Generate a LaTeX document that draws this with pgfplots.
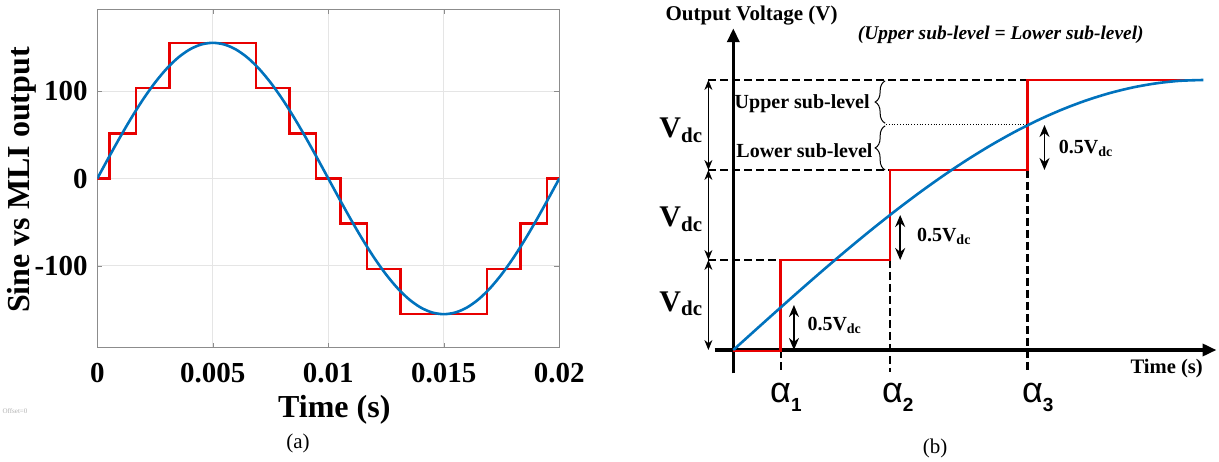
\documentclass[border=0pt]{standalone}
\usepackage{fontspec}
\setmainfont{Liberation Serif}
\newfontfamily\arialfont{Liberation Sans}
\usepackage{pgfplots}
\pgfplotsset{compat=1.18}
\usetikzlibrary{arrows.meta,decorations.pathreplacing}

\definecolor{mblue}{RGB}{0,114,189}
\definecolor{mred}{RGB}{232,0,0}

\begin{document}
\begin{tikzpicture}
\useasboundingbox (0,0) rectangle (609.5pt,230.5pt);

% ---------------- (a) sine vs staircase ----------------
\begin{axis}[
  at={(48.65pt,56.65pt)}, anchor=south west,
  scale only axis, width=231pt, height=169.2pt,
  xmin=0, xmax=0.02, ymin=-194, ymax=194,
  scaled x ticks=false,
  xtick={0,0.005,0.01,0.015,0.02},
  xticklabels={0,0.005,0.01,0.015,0.02},
  ytick={-100,0,100}, yticklabels={-100,0,100},
  grid=major, major grid style={black!10, line width=0.4pt},
  axis line style={black!45, line width=0.5pt},
  tick align=inside, major tick length=2.5pt, tick style={black!45},
  ticklabel style={font=\fontsize{14.5}{16}\selectfont\bfseries},
  xticklabel style={anchor=center, inner sep=0pt, yshift=-12.8pt},
  yticklabel style={anchor=east, inner sep=0pt, xshift=-4.6pt},
  label style={font=\fontsize{16}{18}\selectfont\bfseries},
  xlabel={Time (s)}, ylabel={Sine vs MLI output},
  xlabel style={at={(axis description cs:0.513,-0.184)}, anchor=center},
  ylabel style={at={(axis description cs:-0.1636,0.4956)}, anchor=center},
]
\addplot[mred, line width=1.3pt] coordinates {
  (0,0) (0.000533,0) (0.000533,51.85) (0.001667,51.85) (0.001667,103.7)
  (0.003136,103.7) (0.003136,155.56) (0.006864,155.56) (0.006864,103.7)
  (0.008333,103.7) (0.008333,51.85) (0.009467,51.85) (0.009467,0)
  (0.010533,0) (0.010533,-51.85) (0.011667,-51.85) (0.011667,-103.7)
  (0.013136,-103.7) (0.013136,-155.56) (0.016864,-155.56) (0.016864,-103.7)
  (0.018333,-103.7) (0.018333,-51.85) (0.019467,-51.85) (0.019467,0) (0.02,0)
};
\addplot[mblue, line width=1.3pt, smooth] coordinates {
  (0,0) (0.0005,24.33) (0.001,48.07) (0.0015,70.62) (0.002,91.44)
  (0.0025,110.00) (0.003,125.85) (0.0035,138.61) (0.004,147.95) (0.0045,153.64)
  (0.005,155.56) (0.0055,153.64) (0.006,147.95) (0.0065,138.61) (0.007,125.85)
  (0.0075,110.00) (0.008,91.44) (0.0085,70.62) (0.009,48.07) (0.0095,24.33)
  (0.01,0) (0.0105,-24.33) (0.011,-48.07) (0.0115,-70.62) (0.012,-91.44)
  (0.0125,-110.00) (0.013,-125.85) (0.0135,-138.61) (0.014,-147.95) (0.0145,-153.64)
  (0.015,-155.56) (0.0155,-153.64) (0.016,-147.95) (0.0165,-138.61) (0.017,-125.85)
  (0.0175,-110.00) (0.018,-91.44) (0.0185,-70.62) (0.019,-48.07) (0.0195,-24.33)
  (0.02,0)
};
\end{axis}
\node[font=\fontsize{3.5}{4}\selectfont, text=black!30] at (7.5pt,25pt) {Offset=0};
\node[font=\fontsize{10.5}{12}\selectfont] at (149pt,9pt) {(a)};

% ---------------- (b) schematic of one quarter ----------------
\begin{axis}[
  at={(357.25pt,43.8pt)}, anchor=south west,
  scale only axis, width=251pt, height=172.575pt,
  xmin=-0.04, xmax=1.028, ymin=-0.26, ymax=3.575,
  axis lines=middle, xtick=\empty, ytick=\empty, clip=false,
  axis line style={line width=1.8pt},
  every inner x axis line/.append style={-{Triangle[length=7pt,width=6pt]}},
  every inner y axis line/.append style={-{Triangle[length=7pt,width=6pt]}},
]
% dashed guide lines
\addplot[black, line width=1.1pt, dash pattern=on 4pt off 2pt] coordinates {(-0.053,1) (0.101,1)};
\addplot[black, line width=1.1pt, dash pattern=on 4pt off 2pt] coordinates {(-0.053,2) (0.333,2)};
\addplot[black, line width=1.1pt, dash pattern=on 4pt off 2pt] coordinates {(-0.053,3) (0.626,3)};
\addplot[black, line width=1.1pt, dash pattern=on 4pt off 2pt] coordinates {(0.101,0) (0.101,-0.244)};
\addplot[black, line width=1.1pt, dash pattern=on 4pt off 2pt] coordinates {(0.333,1) (0.333,-0.244)};
\addplot[black, line width=1.1pt, dash pattern=on 4pt off 2pt] coordinates {(0.626,2) (0.626,-0.244)};
% staircase and reference
\addplot[mred, line width=1.3pt] coordinates {
  (0,-0.012) (0.101,-0.012) (0.101,1) (0.333,1) (0.333,2) (0.626,2) (0.626,3) (1.0,3)
};
\addplot[mblue, line width=1.3pt, smooth] coordinates {
  (0,0) (0.05,0.2354) (0.10,0.4693) (0.15,0.7004) (0.20,0.9271) (0.25,1.1480)
  (0.30,1.3620) (0.35,1.5675) (0.40,1.7634) (0.45,1.9484) (0.50,2.1213)
  (0.55,2.2812) (0.60,2.4271) (0.65,2.5579) (0.70,2.6730) (0.75,2.7716)
  (0.80,2.8532) (0.85,2.9171) (0.90,2.9631) (0.95,2.9908) (1.0,3)
};
% Vdc arrows
\draw[line width=0.5pt, {Stealth[length=5pt,width=4pt]}-{Stealth[length=5pt,width=4pt]}] (-0.053,0) -- (-0.053,1);
\draw[line width=0.5pt, {Stealth[length=5pt,width=4pt]}-{Stealth[length=5pt,width=4pt]}] (-0.053,1) -- (-0.053,2);
\draw[line width=0.5pt, {Stealth[length=5pt,width=4pt]}-{Stealth[length=5pt,width=4pt]}] (-0.053,2) -- (-0.053,3);
\node[anchor=base west, inner sep=0pt, font=\fontsize{15}{17}\selectfont\bfseries] at (-0.158,2.356) {V\textsubscript{dc}};
\node[anchor=base west, inner sep=0pt, font=\fontsize{15}{17}\selectfont\bfseries] at (-0.158,1.367) {V\textsubscript{dc}};
\node[anchor=base west, inner sep=0pt, font=\fontsize{15}{17}\selectfont\bfseries] at (-0.158,0.433) {V\textsubscript{dc}};
% half-level arrows
\draw[line width=0.9pt, {Stealth[length=6pt,width=5pt]}-{Stealth[length=6pt,width=5pt]}] (0.129,0) -- (0.129,0.5);
\draw[line width=0.9pt, {Stealth[length=6pt,width=5pt]}-{Stealth[length=6pt,width=5pt]}] (0.355,1) -- (0.355,1.5);
\draw[line width=0.9pt, {Stealth[length=6pt,width=5pt]}-{Stealth[length=6pt,width=5pt]}] (0.662,2) -- (0.662,2.5);
\node[anchor=west, inner sep=0pt, font=\fontsize{10}{12}\selectfont\bfseries] at (0.157,0.278) {0.5V\textsubscript{dc}};
\node[anchor=west, inner sep=0pt, font=\fontsize{10}{12}\selectfont\bfseries] at (0.390,1.259) {0.5V\textsubscript{dc}};
\node[anchor=west, inner sep=0pt, font=\fontsize{10}{12}\selectfont\bfseries] at (0.692,2.241) {0.5V\textsubscript{dc}};
% sub-levels
\draw[densely dotted, line width=0.4pt] (0.325,2.505) -- (0.626,2.505);
\draw[decorate, decoration={brace, amplitude=5pt}, line width=0.5pt] (0.323,2.52) -- (0.323,2.99);
\draw[decorate, decoration={brace, amplitude=5pt}, line width=0.5pt] (0.323,2.0) -- (0.323,2.49);
\node[anchor=east, inner sep=0pt, font=\fontsize{10}{12}\selectfont\bfseries] at (0.291,2.741) {Upper sub-level};
\node[anchor=east, inner sep=0pt, font=\fontsize{10}{12}\selectfont\bfseries] at (0.297,2.214) {Lower sub-level};
% titles and axis names
\node[font=\fontsize{10.5}{12}\selectfont\bfseries] at (0.0389,3.711) {Output Voltage (V)};
\node[font=\fontsize{9.7}{12}\selectfont\bfseries\itshape] at (0.569,3.50) {(Upper sub-level = Lower sub-level)};
\node[font=\fontsize{10.3}{12}\selectfont\bfseries] at (0.922,-0.203) {Time (s)};
% switching angles
\node[anchor=base west, inner sep=0pt, font=\arialfont\fontsize{18}{20}\selectfont] at (0.0777,-0.578) {α\raisebox{-4.5pt}{\fontsize{9.5}{10}\selectfont\bfseries 1}};
\node[anchor=base west, inner sep=0pt, font=\arialfont\fontsize{18}{20}\selectfont] at (0.3157,-0.578) {α\raisebox{-4.5pt}{\fontsize{9.5}{10}\selectfont\bfseries 2}};
\node[anchor=base west, inner sep=0pt, font=\arialfont\fontsize{18}{20}\selectfont] at (0.6136,-0.578) {α\raisebox{-4.5pt}{\fontsize{9.5}{10}\selectfont\bfseries 3}};
\end{axis}
\node[font=\fontsize{10.5}{12}\selectfont] at (467.5pt,6.5pt) {(b)};
\end{tikzpicture}
\end{document}
